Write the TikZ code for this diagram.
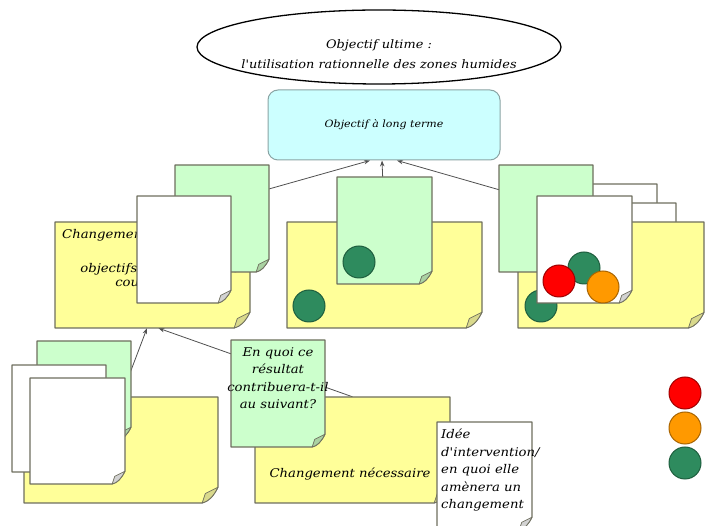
\documentclass[tikz,border=0pt]{standalone}
\usepackage{fontspec}
\setmainfont{DejaVu Serif}
\newfontfamily\handfont{DejaVu Serif}[FakeStretch=1.1]
\usetikzlibrary{arrows.meta,calc,shapes.geometric}
\pgfdeclarelayer{back}
\pgfsetlayers{back,main}

\definecolor{noteyellow}{HTML}{FFFF99}
\definecolor{notegreen}{HTML}{CCFFCC}
\definecolor{notewhite}{HTML}{FFFFFF}
\definecolor{foldyellow}{HTML}{D9D98C}
\definecolor{foldgreen}{HTML}{AAD2A2}
\definecolor{foldwhite}{HTML}{D2D2D2}
\definecolor{noteedge}{HTML}{6E6E5E}
\definecolor{goalfill}{HTML}{CCFFFF}
\definecolor{goaledge}{HTML}{8AA4A4}
\definecolor{linkgray}{HTML}{505050}
\definecolor{dotgreen}{HTML}{2E8B5E}
\definecolor{dotgreenedge}{HTML}{1E5E3E}
\definecolor{dotred}{HTML}{FF0000}
\definecolor{dotrededge}{HTML}{A00000}
\definecolor{dotorange}{HTML}{FF9900}
\definecolor{dotorangeedge}{HTML}{A86400}

\tikzset{
  hand/.style={font=\handfont\itshape\fontsize{12}{17.5}\selectfont},
  notetext/.style={hand, align=center, inner sep=0pt},
  link/.style={draw=linkgray, line width=0.8pt, -{Stealth[length=6pt,width=4.5pt]}},
  dot/.style={circle, minimum size=32pt, inner sep=0pt, line width=1pt},
  greendot/.style={dot, fill=dotgreen, draw=dotgreenedge},
  reddot/.style={dot, fill=dotred, draw=dotrededge},
  orangedot/.style={dot, fill=dotorange, draw=dotorangeedge},
}

% sticky note with a curled bottom-right corner
% #1 name, #2 fill, #3 fold colour, #4 x1, #5 y1, #6 x2, #7 y2
\newcommand\stickynote[7]{%
  \pgfmathsetmacro\fw{10+0.03*(#6-#4)}%
  \node[inner sep=0pt, minimum width={(#6-#4)*1pt}, minimum height={(#7-#5)*1pt}]
    (#1) at ({(#4+#6)/2},{(#5+#7)/2}) {};
  \filldraw[fill=#2, draw=noteedge, line width=1.1pt, line join=round]
    (#4,#5) -- (#6,#5) -- (#6,#7-\fw)
    .. controls (#6-0.3*\fw,#7-0.4*\fw) and (#6-0.6*\fw,#7-0.1*\fw) .. (#6-\fw,#7)
    -- (#4,#7) -- cycle;
  \filldraw[fill=#3, draw=noteedge, line width=0.7pt, line join=round]
    (#6,#7-\fw) -- (#6-0.8*\fw,#7-0.6*\fw) -- (#6-\fw,#7)
    .. controls (#6-0.6*\fw,#7-0.1*\fw) and (#6-0.3*\fw,#7-0.4*\fw) .. (#6,#7-\fw);
}

\begin{document}
\begin{tikzpicture}[x=1pt,y=-1pt]
\useasboundingbox (0,0) rectangle (705,526);
\clip (0,0) rectangle (705,526);

% ultimate goal and long-term goal
\node[ellipse, draw=black, line width=1.3pt, minimum width=364pt, minimum height=74pt] (ult) at (379,47) {};
\node[align=center, inner sep=0pt, font=\handfont\itshape\fontsize{11.7}{20}\selectfont] (ult-t) at (379,54)
  {Objectif ultime :\\l'utilisation rationnelle des zones humides};
\node[draw=goaledge, fill=goalfill, line width=1pt, rounded corners=10pt,
      minimum width=232pt, minimum height=70pt,
      font=\handfont\itshape\fontsize{10}{12}\selectfont] (lt) at (384,125)
  {Objectif à long terme};

% ---- left branch
\stickynote{yl1}{noteyellow}{foldyellow}{55}{222}{250}{328}
\node[hand, anchor=west, inner sep=0pt] (yl1-t1) at (62,235) {Changement nécessaire};
\node[hand, inner sep=0pt] (yl1-t2) at (160,269) {objectifs intermédiaires};
\node[hand, inner sep=0pt] (yl1-t3) at (155,283) {court terme};
\stickynote{gl1}{notegreen}{foldgreen}{175}{165}{269}{272}
\stickynote{wl1}{notewhite}{foldwhite}{137}{196}{231}{303}

% ---- middle branch
\stickynote{yl2}{noteyellow}{foldyellow}{287}{222}{482}{328}
\stickynote{gl2}{notegreen}{foldgreen}{337}{177}{432}{284}
\node[greendot] (m-dot1) at (359,262) {};
\node[greendot] (m-dot2) at (309,306) {};

% ---- right branch
\stickynote{wr0}{notewhite}{foldwhite}{563}{184}{657}{291}
\stickynote{wr1}{notewhite}{foldwhite}{582}{203}{676}{310}
\stickynote{yl3}{noteyellow}{foldyellow}{518}{222}{704}{328}
\stickynote{gr}{notegreen}{foldgreen}{499}{165}{593}{272}
\node[greendot] (r-dot0) at (541,306) {};
\stickynote{wr}{notewhite}{foldwhite}{537}{196}{632}{303}
\node[greendot] (r-dot1) at (584,268) {};
\node[reddot] (r-dot2) at (559,281) {};
\node[orangedot] (r-dot3) at (603,287) {};

% ---- lower left branch
\stickynote{yb1}{noteyellow}{foldyellow}{24}{397}{218}{503}
\stickynote{gb1}{notegreen}{foldgreen}{37}{341}{131}{440}
\stickynote{wb1}{notewhite}{foldwhite}{12}{365}{106}{472}
\stickynote{wb2}{notewhite}{foldwhite}{30}{378}{125}{484}

% ---- lower middle branch
\stickynote{yb2}{noteyellow}{foldyellow}{255}{397}{450}{503}
\node[hand, inner sep=0pt] (yb2-t) at (350,474) {Changement nécessaire};
\stickynote{gb2}{notegreen}{foldgreen}{231}{340}{325}{447}
\node[notetext, anchor=north] (gb2-t) at (278,347)
  {En quoi ce\\résultat\\contribuera-t-il\\au suivant?};
\stickynote{wb3}{notewhite}{foldwhite}{437}{422}{532}{530}
\node[hand, align=left, anchor=north west, inner sep=0pt] (wb3-t) at (441,429)
  {Idée\\d'intervention/\\en quoi elle\\amènera un\\changement};

% ---- legend lights
\node[reddot] (lg-red) at (685,393) {};
\node[orangedot] (lg-orange) at (685,428) {};
\node[greendot] (lg-green) at (685,463) {};

% ---- links between levels, kept behind the notes
\begin{pgfonlayer}{back}
\draw[link] (yl1.north) -- ([xshift=-14pt]lt.south);
\draw[link] (yl2.north) -- ([xshift=-2pt]lt.south);
\draw[link] (yl3.north) -- ([xshift=13pt]lt.south);
\draw[link] (yb1.north) -- ([xshift=-5.5pt]yl1.south);
\draw[link] (yb2.north) -- ([xshift=6pt]yl1.south);
\end{pgfonlayer}
\end{tikzpicture}
\end{document}
